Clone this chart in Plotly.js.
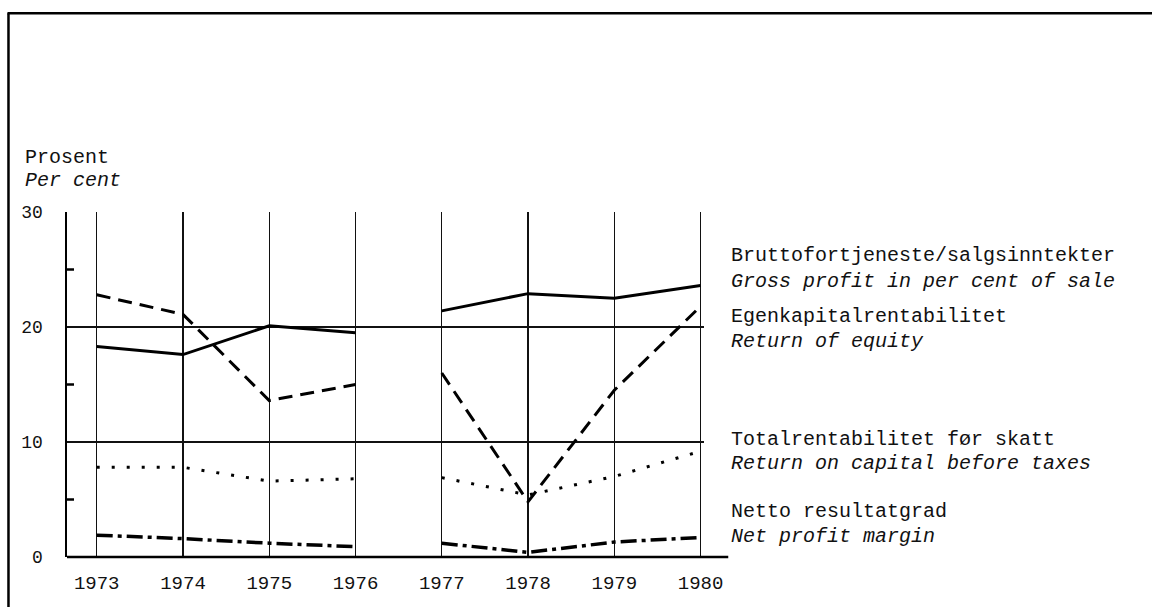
<!DOCTYPE html>
<html>
<head>
<meta charset="utf-8">
<script src="https://cdn.plot.ly/plotly-3.0.1.min.js"></script>
<style>
  html, body { margin: 0; padding: 0; background: #fff; }
  #chart { width: 1152px; height: 607px; }
</style>
</head>
<body>
<div id="chart"></div>
<script>
// ---- data ----
const years = [1973, 1974, 1975, 1976, 1977, 1978, 1979, 1980];
const grossProfit = [18.3, 17.6, 20.1, 19.5, 21.4, 22.9, 22.5, 23.6];
const returnEquity = [22.8, 21.1, 13.6, 15.0, 16.0, 4.8, 14.5, 21.8];
const returnCapital = [7.8, 7.8, 6.6, 6.8, 6.9, 5.4, 7.0, 9.2];
const netMargin = [1.9, 1.6, 1.2, 0.9, 1.2, 0.4, 1.3, 1.7];
const yTicks = [0, 10, 20, 30];
const yTickLabels = ['0', '10', '20', '30'];
const yMinorTicks = [5, 15, 25];
const labelsNo = ['Bruttofortjeneste/salgsinntekter', 'Egenkapitalrentabilitet', 'Totalrentabilitet før skatt', 'Netto resultatgrad'];
const labelsEn = ['Gross profit in per cent of sale', 'Return of equity', 'Return on capital before taxes', 'Net profit margin'];
const unitNo = 'Prosent';
const unitEn = 'Per cent';
const breakAfter = 1976; // no data link between 1976 and 1977

// ---- layout geometry (pixels) ----
const FIG_W = 1152, FIG_H = 607;
const ML = 67, MT = 211.5, MB = 50;
const PX_PER_YEAR = 86.23;
const X0 = 1973 - 29.7 / PX_PER_YEAR;
const X1 = 1980.04;
const PW = (X1 - X0) * PX_PER_YEAR;
const MR = FIG_W - ML - PW;
const PH = FIG_H - MT - MB;
const px2paperX = p => (p - ML) / PW;
const px2paperY = p => (FIG_H - MB - p) / PH;

// insert a gap between segments
function withGap(vals) {
  const xs = [], ys = [];
  years.forEach((yr, i) => {
    xs.push(yr); ys.push(vals[i]);
    if (yr === breakAfter) { xs.push(yr + 0.5); ys.push(null); }
  });
  return { x: xs, y: ys };
}

const FONT = '"Liberation Mono", "DejaVu Sans Mono", monospace';

const styles = [
  { data: grossProfit, line: { color: '#000', width: 3, dash: 'solid' } },
  { data: returnEquity, line: { color: '#000', width: 3, dash: '14px,8px' } },
  { data: returnCapital, line: { color: '#000', width: 3, dash: '3px,12px' } },
  { data: netMargin, line: { color: '#000', width: 3.5, dash: '16px,5px,4px,5px' } }
];

const traces = styles.map((s, i) => {
  const g = withGap(s.data);
  return {
    type: 'scatter', mode: 'lines', x: g.x, y: g.y,
    line: s.line, connectgaps: false, name: labelsEn[i],
    hoverinfo: 'x+y', showlegend: false
  };
});

// legend text positions (pixel centres)
const labelRowsNo = [255, 316, 439.5, 511];
const labelRowsEn = [281, 341.5, 463, 536];
const annotations = [];
labelsNo.forEach((t, i) => {
  annotations.push({ text: t, xref: 'paper', yref: 'paper', x: px2paperX(729), y: px2paperY(labelRowsNo[i]),
    xanchor: 'left', yanchor: 'middle', showarrow: false, font: { family: FONT, size: 20, color: '#111' } });
  annotations.push({ text: '<i>' + labelsEn[i] + '</i>', xref: 'paper', yref: 'paper', x: px2paperX(729), y: px2paperY(labelRowsEn[i]),
    xanchor: 'left', yanchor: 'middle', showarrow: false, font: { family: FONT, size: 20, color: '#111' } });
});
annotations.push({ text: unitNo, xref: 'paper', yref: 'paper', x: px2paperX(23), y: px2paperY(157),
  xanchor: 'left', yanchor: 'middle', showarrow: false, font: { family: FONT, size: 20, color: '#111' } });
annotations.push({ text: '<i>' + unitEn + '</i>', xref: 'paper', yref: 'paper', x: px2paperX(23), y: px2paperY(180),
  xanchor: 'left', yanchor: 'middle', showarrow: false, font: { family: FONT, size: 20, color: '#111' } });

const shapes = [
  // bottom axis line extending past 1980
  { type: 'line', xref: 'paper', yref: 'paper', x0: 0, x1: px2paperX(728), y0: 0, y1: 0, line: { color: '#000', width: 2.5 } },
  // outer frame (left and top visible)
  { type: 'line', xref: 'paper', yref: 'paper', x0: px2paperX(8.5), x1: px2paperX(8.5), y0: px2paperY(12.5), y1: px2paperY(610), line: { color: '#000', width: 2.5 } },
  { type: 'line', xref: 'paper', yref: 'paper', x0: px2paperX(7.5), x1: px2paperX(1160), y0: px2paperY(12.5), y1: px2paperY(12.5), line: { color: '#000', width: 2.5 } }
];
// inward minor ticks on the y axis
yMinorTicks.forEach(v => {
  shapes.push({ type: 'line', xref: 'paper', yref: 'y', x0: 0, x1: 7 / PW, y0: v, y1: v, line: { color: '#000', width: 2.5 } });
});

const layout = {
  width: FIG_W, height: FIG_H,
  margin: { l: ML, r: MR, t: MT, b: MB, pad: 0 },
  paper_bgcolor: '#fff', plot_bgcolor: '#fff',
  showlegend: false,
  xaxis: {
    range: [X0, X1], tickmode: 'array', tickvals: years, ticktext: years.map(String),
    showgrid: true, gridcolor: '#111', gridwidth: 1.3, zeroline: false, showline: false,
    ticks: '', ticklabelstandoff: 12,
    tickfont: { family: FONT, size: 19, color: '#111' }
  },
  yaxis: {
    range: [0, 30], tickmode: 'array', tickvals: yTicks, ticktext: yTickLabels,
    showgrid: true, gridcolor: '#111', gridwidth: 1.5, zeroline: false,
    showline: true, linecolor: '#000', linewidth: 2.5,
    ticks: '', ticklabelstandoff: 18,
    tickfont: { family: FONT, size: 18, color: '#111' }
  },
  shapes: shapes,
  annotations: annotations
};

Plotly.newPlot('chart', traces, layout, { displayModeBar: false, staticPlot: true });
</script>
</body>
</html>
